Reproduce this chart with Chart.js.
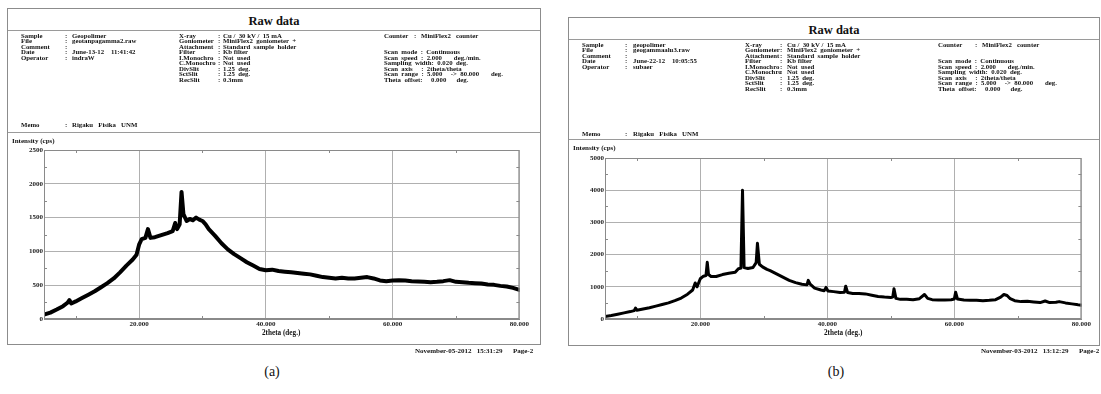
<!DOCTYPE html>
<html>
<head>
<meta charset="utf-8">
<script src="https://cdn.jsdelivr.net/npm/chart.js@4.4.1/dist/chart.umd.min.js"></script>
<style>
  html, body { margin: 0; padding: 0; background: #fff; }
  body { width: 1101px; height: 394px; position: relative; overflow: hidden;
         font-family: "Liberation Serif", "DejaVu Serif", serif; color: #111; }
  .sheet { position: absolute; box-sizing: border-box; border: 1.5px solid #8c8c8c; z-index: 0; }
  .rule { position: absolute; height: 0; border-top: 1px solid #9a9a9a; z-index: 1; }
  .t { position: absolute; white-space: pre; font-weight: bold; font-size: 6.8px; line-height: 7px; z-index: 1;
       will-change: transform; }
  .title { position: absolute; font-weight: bold; font-size: 12.5px; line-height: 14px; transform: translateX(-50%); z-index: 1; }
  .cap { position: absolute; font-size: 14px; line-height: 16px; transform: translateX(-50%); }
  canvas { position: absolute; z-index: 2; }
</style>
</head>
<body>
<canvas id="chartA" width="520" height="200" style="left:10px;top:140px;width:520px;height:200px"></canvas>
<canvas id="chartB" width="522" height="192" style="left:570px;top:148px;width:522px;height:192px"></canvas>
<script>
// ---- diffraction scans: 2theta (deg.) and intensity (cps) ----
const angleA  = [5.0, 6.0, 7.0, 8.0, 8.7, 9.0, 9.3, 10.0, 11.0, 12.0, 13.0, 14.0, 15.0, 16.0, 17.0, 18.0, 19.0, 19.6,
                 20.0, 20.4, 21.0, 21.4, 21.8, 22.5, 23.5, 24.5, 25.3, 25.7, 26.0, 26.4, 26.7, 27.0, 27.5, 28.0, 28.5,
                 29.0, 29.5, 30.0, 30.5, 31.0, 32.0, 33.0, 34.0, 35.0, 36.0, 37.0, 38.0, 39.0, 40.0, 41.0, 42.0, 43.0,
                 44.0, 45.0, 46.0, 47.0, 48.0, 49.0, 50.0, 51.0, 52.0, 53.0, 54.0, 55.0, 56.0, 57.0, 58.0, 59.0, 60.0,
                 61.0, 62.0, 63.0, 64.0, 65.0, 66.0, 67.0, 68.0, 69.0, 70.0, 71.0, 72.0, 73.0, 74.0, 75.0, 76.0, 77.0,
                 78.0, 79.0, 80.0];
const countsA = [65, 95, 140, 190, 240, 280, 230, 260, 310, 360, 410, 470, 530, 600, 690, 790, 880, 950,
                 1100, 1180, 1200, 1330, 1200, 1210, 1240, 1270, 1300, 1420, 1330, 1400, 1880, 1550, 1450, 1480, 1460,
                 1500, 1470, 1450, 1400, 1330, 1230, 1120, 1030, 960, 900, 840, 790, 740, 720, 730, 710, 700,
                 690, 680, 670, 660, 640, 620, 610, 600, 610, 600, 600, 610, 620, 600, 570, 560, 570,
                 575, 570, 560, 555, 550, 545, 550, 560, 575, 550, 545, 535, 530, 525, 510, 505, 490,
                 480, 460, 430];

const angleB  = [5.0, 6.0, 7.0, 8.0, 9.0, 9.6, 9.8, 10.0, 11.0, 12.0, 13.0, 14.0, 15.0, 16.0, 17.0, 18.0, 18.8, 19.2,
                 19.5, 20.0, 20.5, 20.9, 21.1, 21.3, 21.7, 22.5, 23.5, 24.5, 25.5, 26.0, 26.4, 26.65, 26.9, 27.5,
                 28.3, 28.8, 29.0, 29.3, 29.8, 30.5, 31.0, 32.0, 33.0, 34.0, 35.0, 36.0, 36.8, 37.0, 37.3, 38.0, 39.0,
                 39.5, 39.8, 40.1, 41.0, 42.0, 42.7, 42.9, 43.2, 44.0, 45.0, 46.0, 47.0, 48.0, 49.0, 50.0, 50.3, 50.5,
                 50.8, 51.5, 52.5, 53.5, 54.5, 55.3, 55.8, 56.5, 57.5, 58.5, 59.5, 60.0, 60.2, 60.5, 61.5, 62.5, 63.5,
                 64.5, 65.5, 66.5, 67.3, 67.8, 68.3, 68.8, 69.5, 70.5, 71.5, 72.5, 73.5, 74.3, 75.0, 76.0, 76.5, 77.5,
                 78.5, 79.5, 80.0];
const countsB = [80, 110, 150, 190, 230, 260, 340, 270, 310, 350, 400, 450, 500, 570, 650, 770, 900, 1120,
                 1000, 1250, 1330, 1350, 1760, 1380, 1320, 1320, 1380, 1420, 1450, 1560, 1580, 4000, 1600, 1570,
                 1600, 1750, 2350, 1700, 1620, 1540, 1500, 1400, 1300, 1200, 1130, 1080, 1060, 1200, 1080, 960, 900,
                 880, 980, 870, 850, 820, 830, 1020, 820, 790, 790, 780, 740, 700, 680, 670, 680, 940,
                 640, 610, 610, 600, 630, 760, 640, 600, 590, 590, 600, 620, 830, 620, 590, 580, 580,
                 570, 580, 600, 680, 760, 730, 630, 570, 540, 550, 530, 510, 560, 510, 520, 540, 500,
                 470, 440, 430];

// ---- axis ticks ----
const xTicks   = [20, 40, 60, 80];
const xMinor   = [10, 30, 50, 70];
const yStepA   = 500;
const yMinorA  = [250, 750, 1250, 1750, 2250];
const yStepB   = 1000;
const yMinorB  = [500, 1500, 2500, 3500, 4500];

// ---- report sheets ----
function el(cls, text, x, y, extra) {
  const d = document.createElement('div');
  d.className = cls;
  d.textContent = text;
  d.style.left = x + 'px';
  d.style.top = y + 'px';
  if (extra) Object.assign(d.style, extra);
  document.body.appendChild(d);
  return d;
}
function rule(x, y, w) {
  const d = document.createElement('div');
  d.className = 'rule';
  d.style.left = x + 'px'; d.style.top = y + 'px'; d.style.width = w + 'px';
  document.body.appendChild(d);
}
// label / colon / value laid out on one header line
function field(x, y, cols, label, value) {
  el('t', label, x + cols[0], y);
  el('t', ':', x + cols[1], y);
  el('t', value, x + cols[2], y);
}

function sheet(o) {
  const s = document.createElement('div');
  s.className = 'sheet';
  Object.assign(s.style, { left: o.x + 'px', top: o.y + 'px', width: o.w + 'px', height: o.h + 'px' });
  document.body.appendChild(s);

  el('title', 'Raw data', o.x + o.w / 2, o.y + 6);
  rule(o.x + 1, o.y + o.divTop, o.w - 2);

  const dy = 5.45, row = i => o.y + o.row0 + i * dy - 3.5;
  [['Sample', o.sample], ['File', o.file], ['Comment', ''], ['Date', o.date], ['Operator', o.oper]]
    .forEach((r, i) => field(o.x, row(i), o.c1, r[0], r[1]));

  [['X-ray', 'Cu /  30 kV /  15 mA'], ['Goniometer', 'MiniFlex2  goniometer  +'],
   ['Attachment', 'Standard  sample  holder'], ['Filter', 'Kb filter'],
   ['I.Monochro', 'Not  used'], ['C.Monochro', 'Not  used'], ['DivSlit', '1.25  deg.'],
   ['SctSlit', '1.25  deg.'], ['RecSlit', '0.3mm']]
    .forEach((r, i) => field(o.x, row(i), o.c2, r[0], r[1]));

  field(o.x, row(0), o.c3, 'Counter', 'MiniFlex2   counter');
  ['Scan  mode  :  Continuous',
   'Scan  speed  :  2.000       deg./min.',
   'Sampling  width:  0.020  deg.',
   'Scan  axis     :  2theta/theta',
   'Scan  range  :  5.000     ->  80.000       deg.',
   'Theta  offset:     0.000      deg.']
    .forEach((t, i) => el('t', t, o.x + o.c3[0], row(i + 3)));

  field(o.x, o.y + o.memo - 3.5, o.c1, 'Memo', 'Rigaku   Fisika   UNM');
  rule(o.x + 1, o.y + o.divBot, o.w - 2);
  el('t', 'Intensity (cps)', o.x + 5, o.y + o.ylab - 3.5, { fontSize: '7px' });
  el('t', '2theta (deg.)', o.x2t, 330, { fontSize: '7.2px' });
  el('t', o.footer, 0, 348, { left: 'auto', right: o.footRight + 'px', fontSize: '7px' });
  el('cap', o.cap, o.capX, 364);
}

sheet({ x: 7, y: 8, w: 534, h: 337, divTop: 22, row0: 27.5, memo: 116, divBot: 124, ylab: 133,
        c1: [14, 58, 65], c2: [172, 211, 216], c3: [377, 407, 414],
        sample: 'Geopolimer', file: 'geotanpagamma2.raw', date: 'June-13-12    11:41:42', oper: 'indraW',
        footer: 'November-05-2012   15:31:29      Page-2', footRight: 1101 - 533, x2t: 262, cap: '(a)', capX: 272 });
sheet({ x: 568, y: 17, w: 532, h: 329, divTop: 22, row0: 27.5, memo: 116, divBot: 122, ylab: 131,
        c1: [14, 57, 65], c2: [177, 212, 219], c3: [370, 407, 414],
        sample: 'geopolimer', file: 'geogammaalu3.raw', date: 'June-22-12    10:05:55', oper: 'subaer',
        footer: 'November-03-2012   13:12:29      Page-2', footRight: 2, x2t: 824, cap: '(b)', capX: 836 });

// ---- plots ----
const tickFont = { family: '"Liberation Serif", serif', size: 7, weight: 'bold' };

const minorMarks = {
  id: 'minorMarks',
  afterDatasetsDraw(chart, args, opts) {
    const { ctx, chartArea: a, scales: { x, y } } = chart;
    ctx.save();
    ctx.strokeStyle = '#8a8a8a';
    ctx.lineWidth = 1;
    ctx.strokeRect(a.left + 0.5, a.top + 0.5, a.right - a.left - 1, a.bottom - a.top - 1);
    ctx.beginPath();
    opts.xm.forEach(val => {
      const px = Math.round(x.getPixelForValue(val)) + 0.5;
      ctx.moveTo(px, a.top); ctx.lineTo(px, a.top + 3);
      ctx.moveTo(px, a.bottom); ctx.lineTo(px, a.bottom - 3);
    });
    opts.ym.forEach(val => {
      const py = Math.round(y.getPixelForValue(val)) + 0.5;
      ctx.moveTo(a.left, py); ctx.lineTo(a.left + 3, py);
      ctx.moveTo(a.right, py); ctx.lineTo(a.right - 3, py);
    });
    ctx.stroke();
    ctx.restore();
  }
};

function plot(id, angles, counts, yMax, yStep, yMinor, yAxisW, lw) {
  return new Chart(document.getElementById(id), {
    type: 'line',
    data: { datasets: [{
      data: angles.map((a, i) => ({ x: a, y: counts[i] })),
      borderColor: '#000', borderWidth: lw, pointRadius: 0, tension: 0,
      borderJoinStyle: 'round', borderCapStyle: 'round'
    }] },
    options: {
      responsive: false, animation: false, events: [],
      layout: { padding: { top: 10, right: 8, left: 0, bottom: 0 } },
      plugins: { legend: { display: false }, tooltip: { enabled: false }, minorMarks: { xm: xMinor, ym: yMinor } },
      scales: {
        x: {
          type: 'linear', min: 5, max: 80,
          afterBuildTicks: s => { s.ticks = xTicks.map(val => ({ value: val })); },
          afterFit: s => { s.height = 21; },
          ticks: { callback: val => Number(val).toFixed(3), font: tickFont, color: '#222', maxRotation: 0,
                   padding: 1, autoSkip: false },
          grid: { color: '#b0b0b0', lineWidth: 1, drawTicks: false },
          border: { color: '#8a8a8a' }
        },
        y: {
          type: 'linear', min: 0, max: yMax,
          afterFit: s => { s.width = yAxisW; },
          ticks: { stepSize: yStep, callback: val => String(val), font: tickFont, color: '#222',
                   padding: 1, autoSkip: false },
          grid: { color: '#b0b0b0', lineWidth: 1, drawTicks: false },
          border: { color: '#8a8a8a' }
        }
      }
    },
    plugins: [minorMarks]
  });
}

plot('chartA', angleA, countsA, 2500, yStepA, yMinorA, 34, 4);
plot('chartB', angleB, countsB, 5000, yStepB, yMinorB, 35, 3);
</script>
</body>
</html>
